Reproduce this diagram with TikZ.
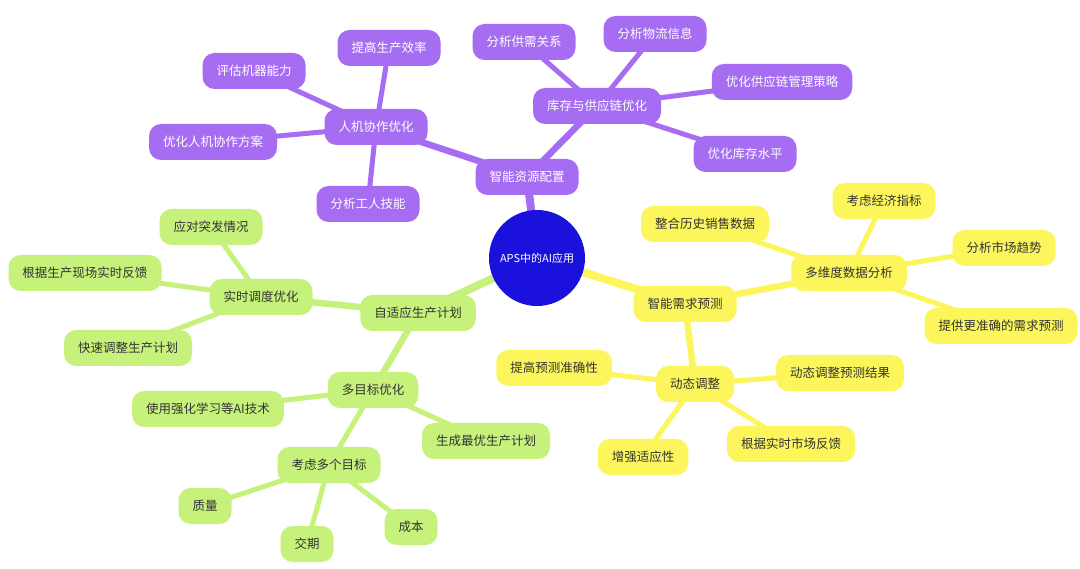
\documentclass[tikz,border=0pt]{standalone}
\usepackage{fontspec}
\setmainfont{Noto Sans CJK SC}
\usetikzlibrary{backgrounds}
\definecolor{purp}{HTML}{A66CF2}
\definecolor{yel}{HTML}{FCF65C}
\definecolor{grn}{HTML}{C6F27C}
\definecolor{hub}{HTML}{1A12DC}
\definecolor{txt}{HTML}{333333}
\begin{document}
\begin{tikzpicture}[x=1pt,y=-1pt,
  box/.style={rounded corners=12pt, minimum height=36pt, inner xsep=14pt, inner ysep=0pt, font=\fontsize{12.5}{14}\selectfont},
  pnode/.style={box, fill=purp, text=white},
  ynode/.style={box, fill=yel, text=txt},
  gnode/.style={box, fill=grn, text=txt},
  hubnode/.style={circle, fill=hub, text=white, minimum size=96pt, inner sep=0pt, font=\fontsize{11}{13}\selectfont},
  e1/.style={line width=8pt, line cap=round},
  e2/.style={line width=6.5pt, line cap=round},
  e3/.style={line width=5pt, line cap=round},
]
\useasboundingbox (0,0) rectangle (1080,569);

\node[hubnode] (c) at (537,258) {APS中的AI应用};

% purple branch
\node[pnode] (res) at (527,177) {智能资源配置};
\node[pnode] (hm) at (376,127) {人机协作优化};
\node[pnode] (hm1) at (389,48) {提高生产效率};
\node[pnode] (hm2) at (254,71) {评估机器能力};
\node[pnode] (hm3) at (213,142) {优化人机协作方案};
\node[pnode] (hm4) at (368,204) {分析工人技能};
\node[pnode] (inv) at (597,106) {库存与供应链优化};
\node[pnode] (inv1) at (524,42) {分析供需关系};
\node[pnode] (inv2) at (655,34) {分析物流信息};
\node[pnode] (inv3) at (782,82) {优化供应链管理策略};
\node[pnode] (inv4) at (745,154) {优化库存水平};

% yellow branch
\node[ynode] (dem) at (685,304) {智能需求预测};
\node[ynode] (md) at (849,273) {多维度数据分析};
\node[ynode] (md1) at (705,224) {整合历史销售数据};
\node[ynode] (md2) at (884,201) {考虑经济指标};
\node[ynode] (md3) at (1004,248) {分析市场趋势};
\node[ynode] (md4) at (1001,326) {提供更准确的需求预测};
\node[ynode] (dy) at (695,384) {动态调整};
\node[ynode] (dy1) at (554,368) {提高预测准确性};
\node[ynode] (dy2) at (840,373) {动态调整预测结果};
\node[ynode] (dy3) at (643,457) {增强适应性};
\node[ynode] (dy4) at (791,444) {根据实时市场反馈};

% green branch
\node[gnode] (ad) at (418,313) {自适应生产计划};
\node[gnode] (rt) at (261,297) {实时调度优化};
\node[gnode] (rt1) at (211,227) {应对突发情况};
\node[gnode] (rt2) at (85,273) {根据生产现场实时反馈};
\node[gnode] (rt3) at (128,348) {快速调整生产计划};
\node[gnode] (mo) at (373,390) {多目标优化};
\node[gnode] (mo1) at (208,409) {使用强化学习等AI技术};
\node[gnode] (mo2) at (486,441) {生成最优生产计划};
\node[gnode] (mo3) at (329,465) {考虑多个目标};
\node[gnode] (g1) at (205,506) {质量};
\node[gnode] (g2) at (307,544) {交期};
\node[gnode] (g3) at (411,527) {成本};

\begin{scope}[on background layer]
  \fill[white] (0,0) rectangle (1080,569);
  \draw[e1, purp] (c.center) -- (res.center);
  \draw[e2, purp] (res.center) -- (hm.center);
  \draw[e2, purp] (res.center) -- (inv.center);
  \draw[e3, purp] (hm.center) -- (hm1.center);
  \draw[e3, purp] (hm.center) -- (hm2.center);
  \draw[e3, purp] (hm.center) -- (hm3.center);
  \draw[e3, purp] (hm.center) -- (hm4.center);
  \draw[e3, purp] (inv.center) -- (inv1.center);
  \draw[e3, purp] (inv.center) -- (inv2.center);
  \draw[e3, purp] (inv.center) -- (inv3.center);
  \draw[e3, purp] (inv.center) -- (inv4.center);

  \draw[e1, yel] (c.center) -- (dem.center);
  \draw[e2, yel] (dem.center) -- (md.center);
  \draw[e2, yel] (dem.center) -- (dy.center);
  \draw[e3, yel] (md.center) -- (md1.center);
  \draw[e3, yel] (md.center) -- (md2.center);
  \draw[e3, yel] (md.center) -- (md3.center);
  \draw[e3, yel] (md.center) -- (md4.center);
  \draw[e3, yel] (dy.center) -- (dy1.center);
  \draw[e3, yel] (dy.center) -- (dy2.center);
  \draw[e3, yel] (dy.center) -- (dy3.center);
  \draw[e3, yel] (dy.center) -- (dy4.center);

  \draw[e1, grn] (c.center) -- (ad.center);
  \draw[e2, grn] (ad.center) -- (rt.center);
  \draw[e2, grn] (ad.center) -- (mo.center);
  \draw[e3, grn] (rt.center) -- (rt1.center);
  \draw[e3, grn] (rt.center) -- (rt2.center);
  \draw[e3, grn] (rt.center) -- (rt3.center);
  \draw[e3, grn] (mo.center) -- (mo1.center);
  \draw[e3, grn] (mo.center) -- (mo2.center);
  \draw[e3, grn] (mo.center) -- (mo3.center);
  \draw[e3, grn] (mo3.center) -- (g1.center);
  \draw[e3, grn] (mo3.center) -- (g2.center);
  \draw[e3, grn] (mo3.center) -- (g3.center);
\end{scope}
\end{tikzpicture}
\end{document}
